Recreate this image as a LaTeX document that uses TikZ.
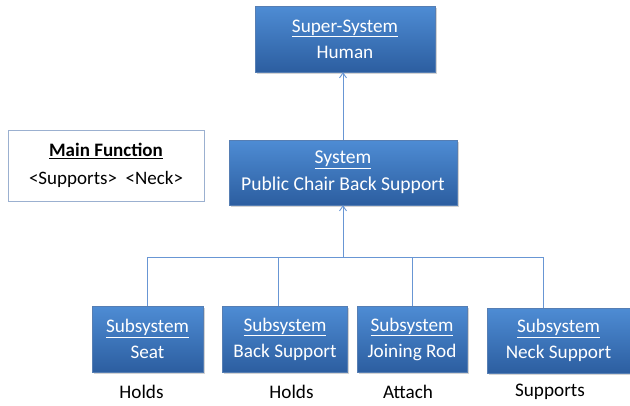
\documentclass[tikz,border=0pt]{standalone}
\usepackage{fontspec}
\setmainfont{Carlito}
\usepackage{xcolor}
\usetikzlibrary{arrows.meta,shadows}
\definecolor{boxtop}{RGB}{78,140,212}
\definecolor{boxbot}{RGB}{44,94,160}
\definecolor{linkblue}{RGB}{104,150,212}
\definecolor{framegrey}{RGB}{155,176,208}

\begin{document}
\begin{tikzpicture}[x=1pt, y=-1pt,
  every node/.style={inner sep=0pt, align=center, font=\fontsize{19.2}{26}\selectfont},
  blue box/.style={top color=boxtop, bottom color=boxbot, draw=boxbot!80, text=white,
    drop shadow={shadow xshift=1.5pt, shadow yshift=-2pt, opacity=0.35}},
  func/.style={draw=framegrey, fill=white, line width=0.8pt, minimum width=196pt, minimum height=71pt,
    font=\fontsize{19}{28}\selectfont},
  link/.style={draw=linkblue, line width=0.9pt},
  verb/.style={text=black}
]
\useasboundingbox (0,0) rectangle (630,405);

% top levels
\node[blue box, minimum width=180pt, minimum height=66pt] (super) at (345,39)
  {\underline{Super-System}\\Human};
\node[blue box, minimum width=228pt, minimum height=65pt, font=\fontsize{19.6}{27}\selectfont] (sys) at (343,172.5)
  {\underline{System}\\Public Chair Back Support};
\node[func] (mainfn) at (106,165.5) {\textbf{\underline{Main Function}}\\{<}Supports{>}\ \ {<}Neck{>}};

% subsystems
\node[blue box, minimum width=111pt, minimum height=66pt] (seat) at (147.5,339) {\underline{Subsystem}\\Seat};
\node[blue box, minimum width=125pt, minimum height=66pt] (back) at (285,339) {\underline{Subsystem}\\Back Support};
\node[blue box, minimum width=110pt, minimum height=66pt] (rod) at (412,339) {\underline{Subsystem}\\Joining Rod};
\node[blue box, minimum width=143pt, minimum height=65pt] (neck) at (558.5,340.5) {\underline{Subsystem}\\Neck Support};

% functions under the boxes
\node[verb] (seatfn) at (141.5,392) {Holds};
\node[verb] (backfn) at (291.5,392) {Holds};
\node[verb] (rodfn) at (408,392) {Attach};
\node[verb] (neckfn) at (550,392) {Supports};

% connectors
\coordinate (bus) at (343,257);
\draw[link] (seat.north) |- (bus);
\draw[link] ([xshift=-7pt]back.north) |- (bus);
\draw[link] (rod.north) |- (bus);
\draw[link] ([xshift=-15.5pt]neck.north) |- (bus);
\draw[link, -{Straight Barb[length=5pt, width=7pt]}] (bus) -- (sys.south);
\draw[link, -{Straight Barb[length=5pt, width=7pt]}] (sys.north) -- (sys.north |- super.south);
\end{tikzpicture}
\end{document}
